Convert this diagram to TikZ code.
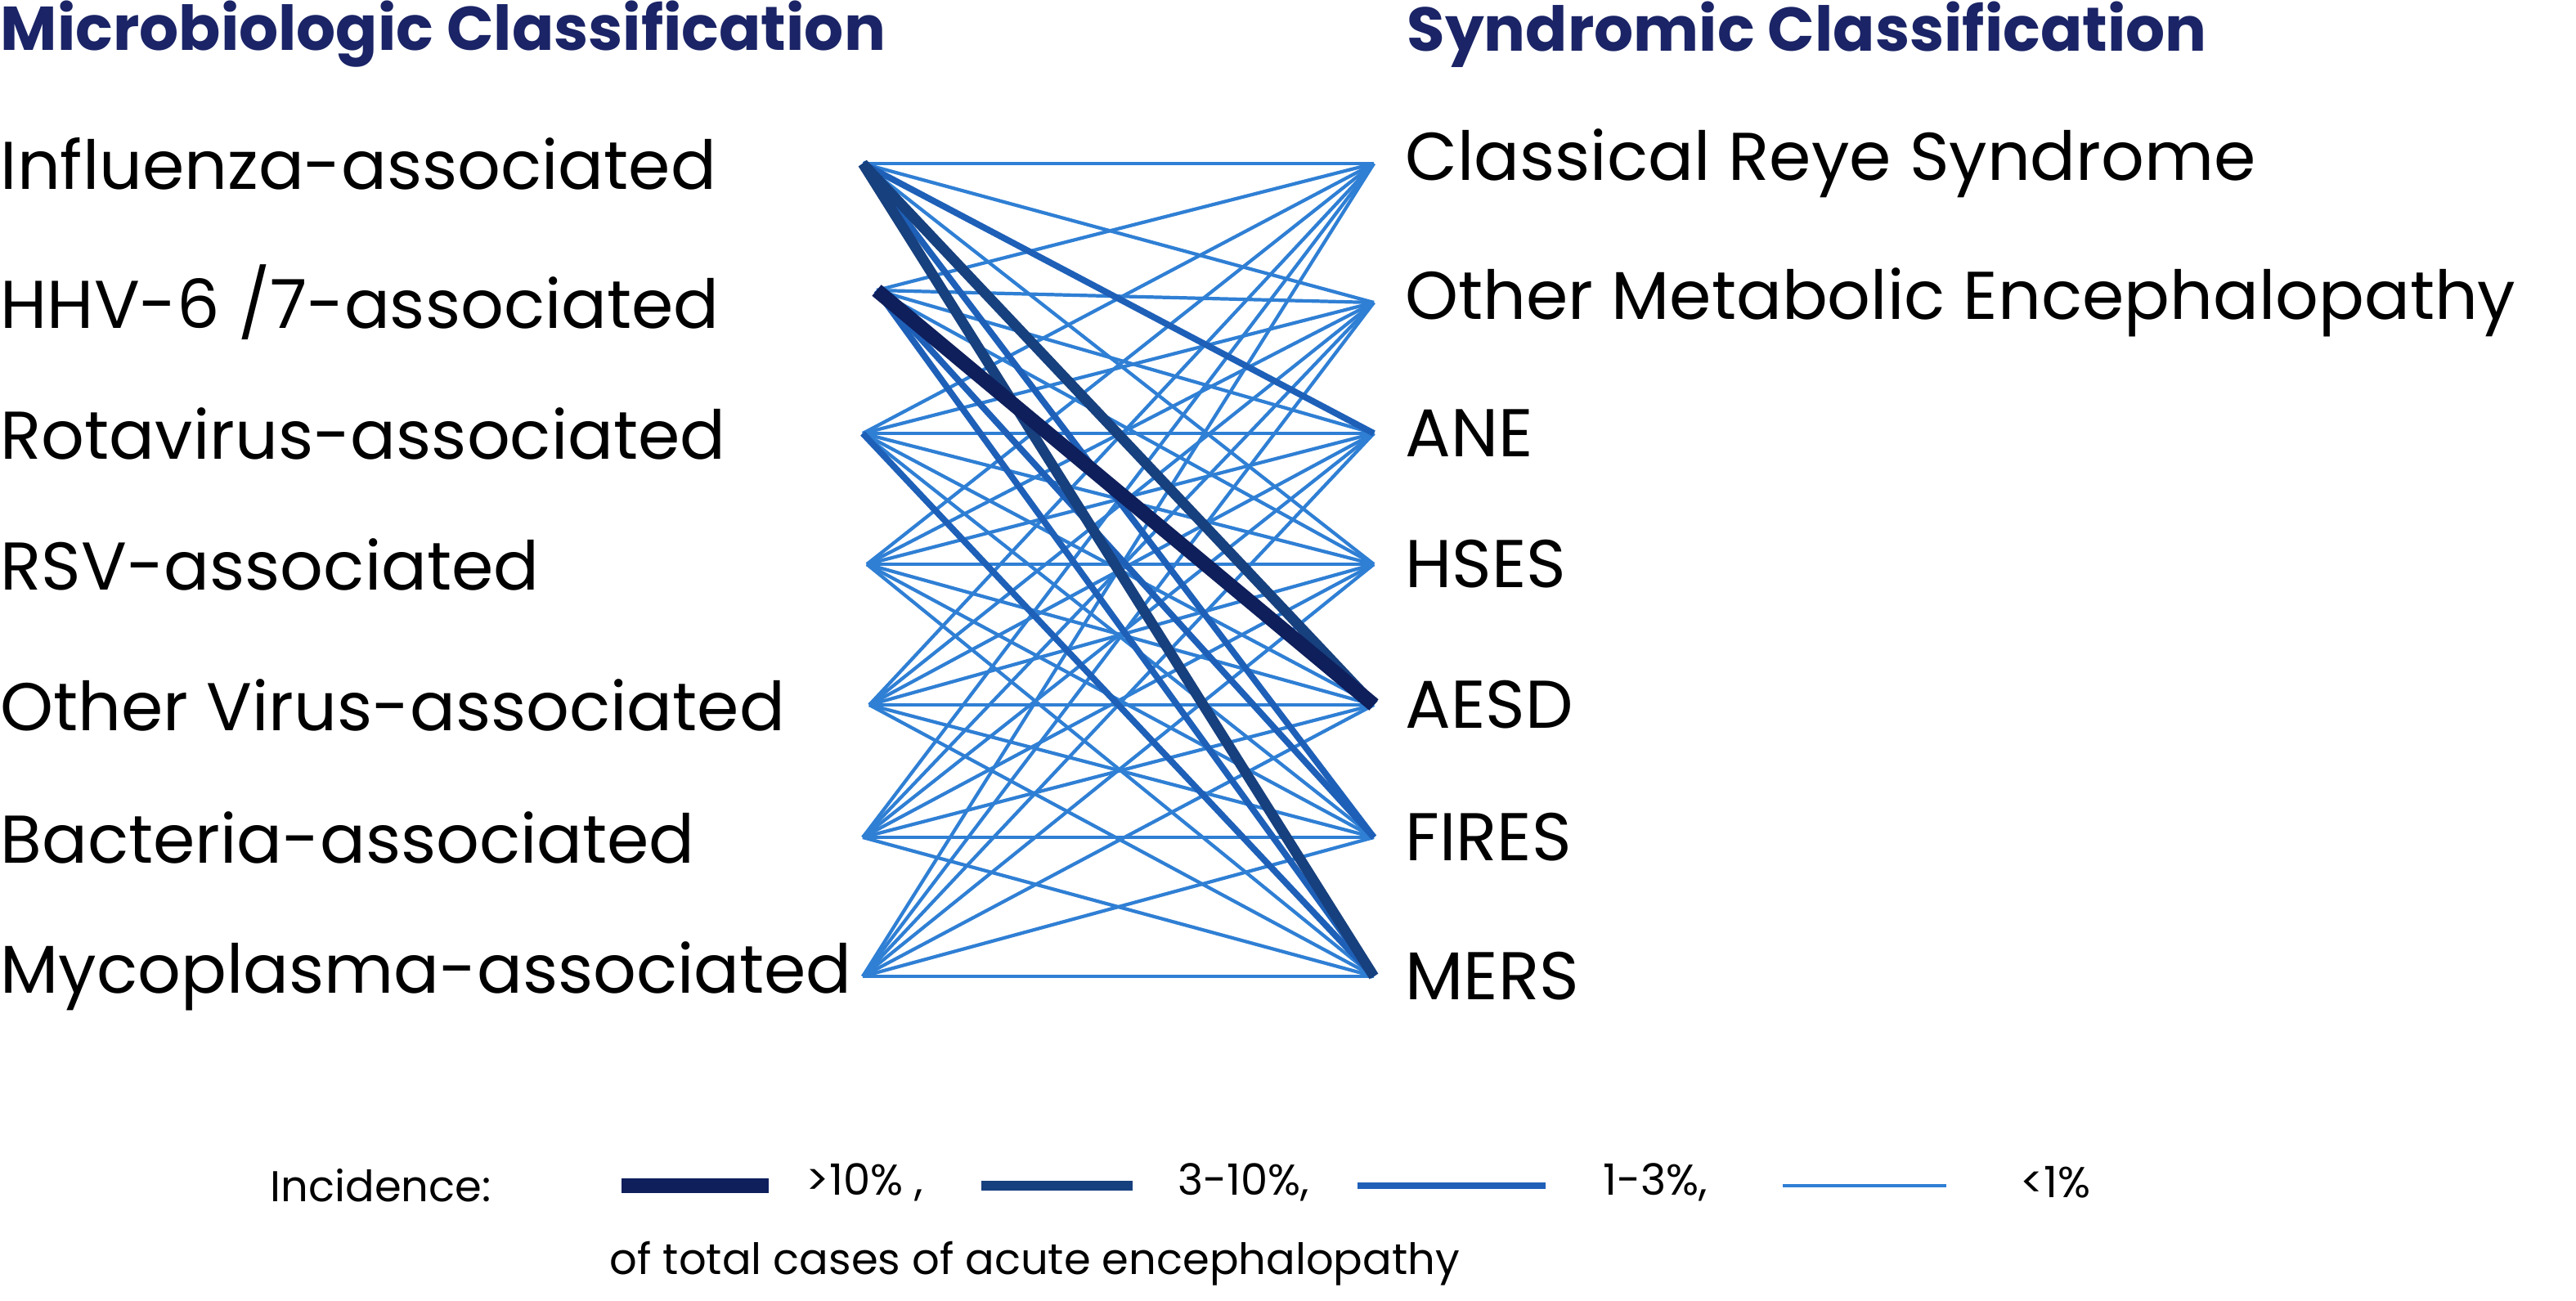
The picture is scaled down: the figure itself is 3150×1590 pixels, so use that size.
\documentclass[tikz,border=0pt]{standalone}
\usepackage{fontspec}
\setmainfont{Poppins}
\definecolor{navy}{HTML}{1A2466}
\definecolor{lb}{HTML}{2F7FD4}
\definecolor{mb}{HTML}{1E60B8}
\definecolor{db}{HTML}{17407E}
\definecolor{vd}{HTML}{0E1F5C}
\begin{document}
\begin{tikzpicture}[x=0.01cm,y=-0.01cm,
  lab/.style={anchor=west,inner sep=0,font=\fontsize{23.5}{28}\selectfont},
  ttl/.style={anchor=west,inner sep=0,font=\fontsize{21.5}{25}\selectfont\bfseries,text=navy},
  leg/.style={anchor=west,inner sep=0,font=\fontsize{15}{18}\selectfont},
  e1/.style={lb,line width=1.2pt},
  e2/.style={mb,line width=2.2pt},
  e3/.style={db,line width=3.6pt},
  e4/.style={vd,line width=5pt}]
\useasboundingbox (0,0) rectangle (3150,1590);
\node[ttl] (t1) at (0,42) {Microbiologic Classification};
\node[ttl] (t2) at (1720,42) {Syndromic Classification};
\foreach \i/\y/\t in {1/200/Influenza-associated,2/370/{HHV-6 /7-associated},3/530/Rotavirus-associated,4/690/RSV-associated,5/862/Other Virus-associated,6/1024/Bacteria-associated,7/1194/Mycoplasma-associated}
  \node[lab] (a\i) at (0,\y) {\t};
\foreach \i/\y/\t in {1/200/Classical Reye Syndrome,2/370/Other Metabolic Encephalopathy,3/530/ANE,4/690/HSES,5/862/AESD,6/1024/FIRES,7/1194/MERS}
  \node[lab] (b\i) at (1718,\y) {\t};
\foreach \i/\y/\x in {1/200/1055,2/355/1072,3/530/1055,4/690/1060,5/862/1063,6/1024/1055,7/1194/1055}
  \coordinate (L\i) at (\x,\y);
\foreach \i/\y in {1/200,2/370,3/530,4/690,5/862,6/1024,7/1194}
  \coordinate (R\i) at (1680,\y);
\foreach \i in {1,...,7}{\foreach \j in {1,...,7}{\draw[e1] (L\i) -- (R\j);}}
\draw[e2] (L1) -- (R3); \draw[e2] (L2) -- (R6); \draw[e2] (L1) -- (R6);
\draw[e2] (L3) -- (R7); \draw[e2] (L2) -- (R7);
\draw[e3] (L1) -- (R7);
\draw[e3] (L1) -- (R5);
\draw[e4] (L2) -- (R5);
% legend
\node[leg] (inc) at (330,1450) {Incidence:};
\coordinate (g1a) at (760,1450); \coordinate (g1b) at (940,1450);
\draw[e4] (g1a) -- (g1b);
\node[leg] (p1) at (985,1446) {>10\% ,};
\coordinate (g2a) at (1200,1450); \coordinate (g2b) at (1385,1450);
\draw[e3] (g2a) -- (g2b);
\node[leg] (p2) at (1440,1446) {3-10\%,};
\coordinate (g3a) at (1660,1450); \coordinate (g3b) at (1890,1450);
\draw[e2] (g3a) -- (g3b);
\node[leg] (p3) at (1960,1446) {1-3\%,};
\coordinate (g4a) at (2180,1450); \coordinate (g4b) at (2380,1450);
\draw[e1] (g4a) -- (g4b);
\node[leg] (p4) at (2470,1446) {<1\%};
\node[leg] (foot) at (745,1545) {of total cases of acute encephalopathy};
\end{tikzpicture}
\end{document}
